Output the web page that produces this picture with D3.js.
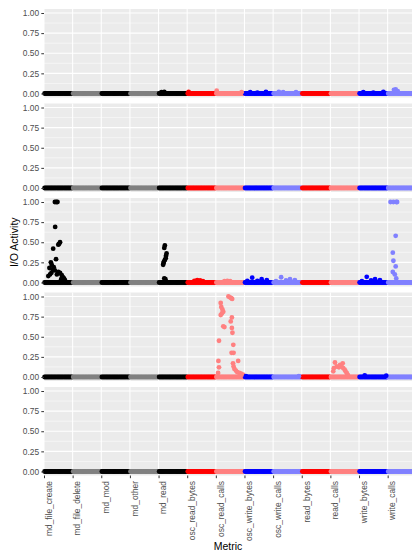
<!DOCTYPE html>
<html>
<head>
<meta charset="utf-8">
<script src="https://cdn.jsdelivr.net/npm/d3@7"></script>
<style>
  body { margin: 0; background: #fff; }
  svg { display: block; font-family: 'Liberation Sans', Arial, sans-serif; }
</style>
</head>
<body>
<svg id="chart" width="412" height="552"></svg>
<script>
const metrics = [
  'md_file_create', 'md_file_delete', 'md_mod', 'md_other', 'md_read',
  'osc_read_bytes', 'osc_read_calls', 'osc_write_bytes', 'osc_write_calls',
  'read_bytes', 'read_calls', 'write_bytes', 'write_calls'
]
const metricColors = [
  '#000000', '#808080', '#000000', '#808080', '#000000',
  '#ff0000', '#ff8080', '#0000ff', '#8080ff',
  '#ff0000', '#ff8080', '#0000ff', '#8080ff'
]
const yTickValues = [0, 0.25, 0.5, 0.75, 1]
const yMinorValues = [0.125, 0.375, 0.625, 0.875]

// sample times inside each metric slot (values at these are 0 unless listed below)
const sampleTimes = [0.02, 0.06, 0.1, 0.14, 0.18, 0.22, 0.26, 0.3, 0.34, 0.38, 0.42, 0.46, 0.5,
  0.54, 0.58, 0.62, 0.66, 0.7, 0.74, 0.78, 0.82, 0.86, 0.9, 0.94, 0.98]

// non-zero readings: [metric index, time in slot, activity]
const panel1Points = [
  [4, 0.1, 0.015], [4, 0.2, 0.02],
  [5, 0.05, 0.02],
  [6, 0.03, 0.035], [6, 0.9, 0.015],
  [7, 0.2, 0.015], [7, 0.45, 0.01], [7, 0.75, 0.02],
  [8, 0.2, 0.02], [8, 0.35, 0.015], [8, 0.8, 0.015],
  [11, 0.15, 0.015], [11, 0.5, 0.01], [11, 0.85, 0.02],
  [12, 0.22, 0.045], [12, 0.28, 0.05], [12, 0.35, 0.03]
]
const panel2Points = []
const panel3Points = [
  [0, 0.38, 1.0], [0, 0.43, 1.0], [0, 0.47, 1.0], [0, 0.39, 0.69], [0, 0.56, 0.5],
  [0, 0.53, 0.48], [0, 0.5, 0.47], [0, 0.32, 0.42], [0, 0.42, 0.29], [0, 0.24, 0.25],
  [0, 0.27, 0.22], [0, 0.19, 0.18], [0, 0.3, 0.16], [0, 0.38, 0.15], [0, 0.5, 0.13],
  [0, 0.56, 0.12], [0, 0.21, 0.1], [0, 0.62, 0.09], [0, 0.65, 0.07], [0, 0.7, 0.05],
  [0, 0.73, 0.03], [0, 0.15, 0.08], [0, 0.26, 0.12], [0, 0.34, 0.19], [0, 0.45, 0.1],
  [0, 0.6, 0.04],
  [4, 0.22, 0.46], [4, 0.2, 0.43], [4, 0.28, 0.36], [4, 0.26, 0.33], [4, 0.25, 0.3],
  [4, 0.22, 0.28], [4, 0.19, 0.26], [4, 0.17, 0.24], [4, 0.16, 0.22], [4, 0.2, 0.05],
  [4, 0.24, 0.04],
  [5, 0.25, 0.02], [5, 0.35, 0.03], [5, 0.45, 0.025], [5, 0.55, 0.015],
  [6, 0.3, 0.015], [6, 0.4, 0.02], [6, 0.5, 0.015],
  [7, 0.1, 0.02], [7, 0.27, 0.06], [7, 0.45, 0.02], [7, 0.6, 0.04], [7, 0.78, 0.03],
  [8, 0.1, 0.015], [8, 0.28, 0.065], [8, 0.45, 0.025], [8, 0.59, 0.04], [8, 0.76, 0.03],
  [11, 0.1, 0.015], [11, 0.27, 0.07], [11, 0.42, 0.025], [11, 0.56, 0.04], [11, 0.73, 0.03],
  [12, 0.1, 1.0], [12, 0.2, 1.0], [12, 0.3, 1.0], [12, 0.33, 1.0], [12, 0.28, 0.58],
  [12, 0.18, 0.37], [12, 0.2, 0.27], [12, 0.28, 0.2], [12, 0.18, 0.13], [12, 0.25, 0.1],
  [12, 0.3, 0.05]
]
const panel4Points = [
  [6, 0.44, 1.0], [6, 0.49, 0.99], [6, 0.54, 0.98], [6, 0.57, 0.97],
  [6, 0.17, 0.92], [6, 0.19, 0.87], [6, 0.23, 0.84], [6, 0.26, 0.81], [6, 0.21, 0.79],
  [6, 0.17, 0.77], [6, 0.56, 0.74], [6, 0.52, 0.69], [6, 0.26, 0.63], [6, 0.3, 0.62],
  [6, 0.56, 0.61], [6, 0.58, 0.55], [6, 0.11, 0.45], [6, 0.61, 0.4], [6, 0.55, 0.3],
  [6, 0.62, 0.3], [6, 0.78, 0.2], [6, 0.09, 0.2], [6, 0.11, 0.12], [6, 0.08, 0.05],
  [6, 0.6, 0.17], [6, 0.62, 0.13], [6, 0.65, 0.1], [6, 0.7, 0.08], [6, 0.75, 0.06],
  [6, 0.82, 0.05], [6, 0.88, 0.04], [6, 0.95, 0.03],
  [7, 0.05, 0.01], [8, 0.9, 0.01],
  [10, 0.16, 0.18], [10, 0.34, 0.15], [10, 0.43, 0.17], [10, 0.22, 0.13], [10, 0.45, 0.11],
  [10, 0.53, 0.07], [10, 0.61, 0.025], [10, 0.12, 0.11], [10, 0.1, 0.07], [10, 0.3, 0.12],
  [10, 0.38, 0.14], [10, 0.5, 0.09], [10, 0.57, 0.05],
  [11, 0.2, 0.02], [11, 0.95, 0.015]
]
const panel5Points = []
const panels = [panel1Points, panel2Points, panel3Points, panel4Points, panel5Points]

const svg = d3.select('#chart')
const plotLeft = 44
const plotRight = 412
const plotTop = 9
const panelH = 88.5
const panelStep = 94.5
const plotBottom = plotTop + (panels.length - 1) * panelStep + panelH
const r = 2.4

const x = d3.scaleLinear().domain([0, 12.85]).range([plotLeft, plotRight])

panels.forEach(function(spikes, p) {
  const y0 = plotTop + p * panelStep
  const y = d3.scaleLinear().domain([-0.05, 1.05]).range([y0 + panelH, y0])
  const g = svg.append('g')

  g.append('rect')
    .attr('x', plotLeft).attr('y', y0)
    .attr('width', plotRight - plotLeft).attr('height', panelH)
    .attr('fill', '#ebebeb')

  g.selectAll('.minor')
    .data(yMinorValues)
    .join('line')
    .attr('class', 'minor')
    .attr('x1', plotLeft).attr('x2', plotRight)
    .attr('y1', d => y(d)).attr('y2', d => y(d))
    .attr('stroke', '#fff').attr('stroke-width', 0.5)

  g.selectAll('.hmajor')
    .data(yTickValues)
    .join('line')
    .attr('class', 'hmajor')
    .attr('x1', plotLeft).attr('x2', plotRight)
    .attr('y1', d => y(d)).attr('y2', d => y(d))
    .attr('stroke', '#fff').attr('stroke-width', 1.05)

  g.selectAll('.vmajor')
    .data(metrics)
    .join('line')
    .attr('class', 'vmajor')
    .attr('x1', (d, i) => x(i)).attr('x2', (d, i) => x(i))
    .attr('y1', y0).attr('y2', y0 + panelH)
    .attr('stroke', '#fff').attr('stroke-width', 1.05)

  const baseline = []
  metrics.forEach(function(m, i) {
    sampleTimes.forEach(t => baseline.push([i, t, 0]))
  })
  const pts = baseline.concat(spikes)

  g.selectAll('circle')
    .data(pts)
    .join('circle')
    .attr('cx', d => x(d[0] + d[1]))
    .attr('cy', d => y(d[2]))
    .attr('r', r)
    .attr('fill', d => metricColors[d[0]])

  const yAxis = g.append('g')
    .attr('transform', 'translate(' + plotLeft + ',0)')
    .call(d3.axisLeft(y).tickValues(yTickValues).tickFormat(d3.format('.2f')).tickSize(2.7).tickPadding(2.2))
  yAxis.select('.domain').remove()
  yAxis.selectAll('line').attr('stroke', '#333')
  yAxis.selectAll('text')
    .attr('fill', '#4d4d4d')
    .attr('font-size', 8.4)
    .attr('font-family', "'Liberation Sans', Arial, sans-serif")
})

const xAxis = svg.append('g')
  .attr('transform', 'translate(0,' + plotBottom + ')')
  .call(d3.axisBottom(x).tickValues(metrics.map((d, i) => i)).tickFormat(i => metrics[i]).tickSize(2.7))
xAxis.select('.domain').remove()
xAxis.selectAll('line').attr('stroke', '#333')
xAxis.selectAll('text')
  .attr('transform', 'rotate(-90)')
  .attr('text-anchor', 'end')
  .attr('x', -5.5)
  .attr('y', 7.3)
  .attr('dy', null)
  .attr('fill', '#4d4d4d')
  .attr('font-size', 8.4)
  .attr('font-family', "'Liberation Sans', Arial, sans-serif")

svg.append('text')
  .attr('x', (plotLeft + plotRight) / 2)
  .attr('y', 549.5)
  .attr('text-anchor', 'middle')
  .attr('font-size', 10.5)
  .text('Metric')

svg.append('text')
  .attr('transform', 'translate(18,' + (plotTop + plotBottom) / 2 + ') rotate(-90)')
  .attr('text-anchor', 'middle')
  .attr('font-size', 10.5)
  .text('I/O Activity')
</script>
</body>
</html>
